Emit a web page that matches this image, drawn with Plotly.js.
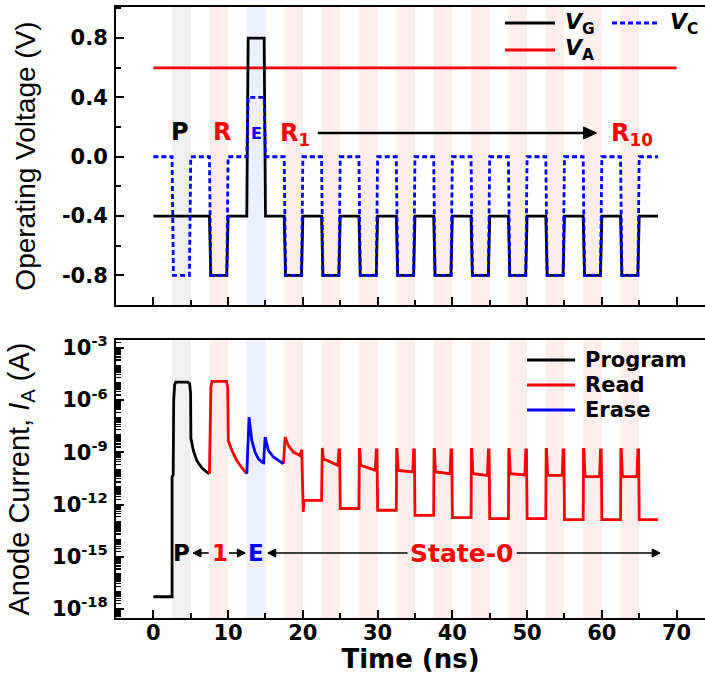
<!DOCTYPE html>
<html><head><meta charset="utf-8">
<script src="https://cdn.plot.ly/plotly-3.0.1.min.js"></script>
<style>html,body{margin:0;padding:0;background:#fff;overflow:hidden}</style>
</head><body><div id="chart" style="width:705px;height:674px"></div>
<script>
// ================= DATA =================
// --- Top panel: pulse schedule (ns)
const programPulse = [2.5, 5.0];
const erasePulse = [12.5, 15.0];
const readPulseStarts = [7.5, 17.5, 22.5, 27.5, 32.5, 37.5, 42.5, 47.5, 52.5, 57.5, 62.5];
const readPulseWidth = 2.5;
const waveSpan = [0, 67.5];
const vaSpan = [0, 70];
// voltage levels: [idle, program, read, erase]
const vgLevels = [-0.4, -0.4, -0.8, 0.8];
const vcLevels = [0.0, -0.8, -0.8, 0.4];
const vaLevel = 0.6;

// --- Bottom panel: anode current, exponent of I_A (A)
const progT   = [0, 2.5, 2.5, 2.65, 2.72, 2.85, 3.0, 4.6, 4.85, 4.98, 5.02, 5.35, 5.8, 6.5, 7.15, 7.5];
const progExp = [-17.3, -17.3, -10.4, -10.3, -6.0, -5.1, -4.97, -4.97, -5.05, -5.6, -8.2, -8.9, -9.47, -9.9, -10.14, -10.23];

const read1T   = [7.5, 7.55, 7.62, 7.7, 7.85, 9.8, 9.95, 10.02, 10.5, 11.16, 11.83, 12.5];
const read1Exp = [-10.23, -8.7, -8.6, -5.2, -4.93, -4.93, -5.3, -8.32, -8.9, -9.47, -9.89, -10.23];

const eraseT   = [12.5, 12.8, 13.17, 13.6, 14.05, 14.5, 14.75, 14.95, 15.4, 16.06, 16.73, 17.4];
const eraseExp = [-10.23, -6.99, -8.32, -8.99, -9.37, -9.56, -9.6, -8.13, -8.9, -9.27, -9.47, -9.66];

const r1T   = [17.4, 17.63, 18.06, 18.73, 19.6, 19.85, 20.05, 20.15];
const r1Exp = [-9.66, -8.13, -8.61, -8.99, -9.18, -8.86, -12.43, -11.76];

// reads R2..R10 (start at readPulseStarts[2..])
const readStartPeakExp = [-8.75, -8.84, -8.84, -8.84, -8.84, -8.84, -8.84, -8.84, -8.84];
const readBarStartExp  = [-9.37, -9.75, -10.04, -10.13, -10.23, -10.23, -10.33, -10.4, -10.4];
const readBarEndExp    = [-9.75, -10.04, -10.13, -10.23, -10.33, -10.3, -10.33, -10.4, -10.4];
const readEndPeakExp   = [-8.86, -8.86, -8.86, -8.86, -8.86, -8.86, -8.86, -8.86, -8.86];
// low-state level after R1..R10
const readLowExp = [-11.76, -12.23, -12.33, -12.62, -12.75, -12.81, -12.81, -12.87, -12.87, -12.87];

// tick labels
const vTickVals = [-0.8, -0.4, 0.0, 0.4, 0.8];
const vTickText = ['-0.8', '-0.4', '0.0', '0.4', '0.8'];
const iLabelExps = [-18, -15, -12, -9, -6, -3];
const tTickVals = [0, 10, 20, 30, 40, 50, 60, 70];

// ================= BUILD =================
const ramp = 0.18;
function pulses() {
  const list = [{t0: programPulse[0], t1: programPulse[1], k: 1},
                {t0: erasePulse[0], t1: erasePulse[1], k: 3}];
  readPulseStarts.forEach(s => list.push({t0: s, t1: s + readPulseWidth, k: 2}));
  return list.sort((a, b) => a.t0 - b.t0);
}
function stepWave(levels) {
  const x = [waveSpan[0]], y = [levels[0]];
  pulses().forEach(p => {
    const lv = levels[p.k];
    if (lv === levels[0]) return;
    x.push(p.t0, p.t0 + ramp, p.t1 - ramp, p.t1);
    y.push(levels[0], lv, lv, levels[0]);
  });
  x.push(waveSpan[1]); y.push(levels[0]);
  return {x, y};
}
const vg = stepWave(vgLevels);
const vc = stepWave(vcLevels);

const pw = v => Math.pow(10, v);
const readX = read1T.slice(), readY = read1Exp.map(pw);
readX.push(null); readY.push(null);
r1T.forEach((t, i) => { readX.push(t); readY.push(pw(r1Exp[i])); });
readPulseStarts.slice(2).forEach((t0, i) => {
  const low = readLowExp[i];
  readX.push(t0, t0 + 0.05, t0 + 0.1, t0 + 0.25, t0 + 2.2, t0 + 2.32, t0 + 2.42, t0 + 2.5);
  readY.push(pw(low), pw(readStartPeakExp[i]), pw(readStartPeakExp[i]), pw(readBarStartExp[i]),
             pw(readBarEndExp[i]), pw(readEndPeakExp[i]), pw(readEndPeakExp[i]), pw(readLowExp[i + 1]));
});
readX.push(waveSpan[1]); readY.push(pw(readLowExp[readLowExp.length - 1]));

const RED = '#ff0000', BLUE = '#0000ff', BLACK = '#000000';
const LW = 2.8;
const DASH = '5px,3px';
const traces = [
  {x: vaSpan, y: [vaLevel, vaLevel], mode: 'lines', line: {color: RED, width: LW}, xaxis: 'x', yaxis: 'y'},
  {x: vg.x, y: vg.y, mode: 'lines', line: {color: BLACK, width: LW}, xaxis: 'x', yaxis: 'y'},
  {x: vc.x, y: vc.y, mode: 'lines', line: {color: BLUE, width: LW, dash: DASH}, xaxis: 'x', yaxis: 'y'},
  {x: progT, y: progExp.map(pw), mode: 'lines', line: {color: BLACK, width: LW}, xaxis: 'x2', yaxis: 'y2'},
  {x: readX, y: readY, mode: 'lines', line: {color: RED, width: LW}, xaxis: 'x2', yaxis: 'y2', connectgaps: false},
  {x: eraseT, y: eraseExp.map(pw), mode: 'lines', line: {color: BLUE, width: LW}, xaxis: 'x2', yaxis: 'y2'}
];
traces.forEach(t => { t.showlegend = false; t.hoverinfo = 'skip'; });

// layout geometry (pixels)
const W = 705, H = 674, ML = 116, MR = 0, MT = 7, MB = 56;
const PW = W - ML - MR, PH = H - MT - MB;
const XR = [-5, 73.8];
const px = v => (v - ML) / PW;           // pixel x -> paper
const py = v => (H - MB - v) / PH;       // pixel y -> paper
const tx = t => ML + (t - XR[0]) / (XR[1] - XR[0]) * PW;  // time -> pixel x

const shapes = [];
const bandColor = ['', '#f0f0f0', '#fdeeee', '#eeeefc'];
['y domain', 'y2 domain'].forEach((yr, j) => {
  const xr = j === 0 ? 'x' : 'x2';
  pulses().forEach(p => shapes.push({type: 'rect', xref: xr, yref: yr, x0: p.t0, x1: p.t1, y0: 0, y1: 1,
    fillcolor: bandColor[p.k], line: {width: 0}, layer: 'below'}));
});

const annotations = [];
const F = 'Liberation Sans, Arial, sans-serif';
const FB = 'DejaVu Sans, Liberation Sans, sans-serif';
function legendItem(x0, x1, y, color, dash, label, size) {
  shapes.push({type: 'line', xref: 'paper', yref: 'paper', x0: px(x0), x1: px(x1), y0: py(y), y1: py(y),
    line: {color, width: LW, dash}});
  annotations.push({xref: 'paper', yref: 'paper', x: px(x1 + 8), y: py(y), xanchor: 'left', yanchor: 'middle',
    text: label, showarrow: false, font: {family: FB, size, color: '#000', weight: 700}});
}
legendItem(505, 555, 23, BLACK, 'solid', '<i>V</i><sub>G</sub>', 22);
legendItem(612, 660, 23, BLUE, DASH, '<i>V</i><sub>C</sub>', 22);
legendItem(505, 555, 50, RED, 'solid', '<i>V</i><sub>A</sub>', 22);
legendItem(527, 575, 360, BLACK, 'solid', 'Program', 21);
legendItem(527, 575, 385, RED, 'solid', 'Read', 21);
legendItem(527, 575, 410, BLUE, 'solid', 'Erase', 21);

function label(xr, yr, x, y, text, color, size) {
  annotations.push({xref: xr, yref: yr, x, y, text, showarrow: false, xanchor: 'center', yanchor: 'middle',
    font: {family: FB, size, color, weight: 700}});
}
// arrow in pixel space: line + filled triangle head
function arrowPx(x0, x1, y, lw, hl, hw) {
  const dir = Math.sign(x1 - x0);
  const xb = x1 - dir * hl;
  shapes.push({type: 'line', xref: 'paper', yref: 'paper', x0: px(x0), x1: px(xb), y0: py(y), y1: py(y),
    line: {color: BLACK, width: lw}});
  shapes.push({type: 'path', xref: 'paper', yref: 'paper', fillcolor: BLACK, line: {color: BLACK, width: 1},
    path: `M${px(x1)},${py(y)} L${px(xb)},${py(y - hw)} L${px(xb)},${py(y + hw)} Z`});
}
// top labels
label('x', 'y', 3.6, 0.17, 'P', BLACK, 24);
label('x', 'y', 9.2, 0.17, 'R', RED, 24);
label('x', 'y', 13.75, 0.155, 'E', BLUE, 16);
label('x', 'y', 19.0, 0.15, 'R<sub>1</sub>', RED, 24);
label('x', 'y', 64.0, 0.15, 'R<sub>10</sub>', RED, 24);
arrowPx(tx(22), tx(59.3), 133, 2.4, 13, 6);
// bottom labels
const yl = 553;
const ylD = (H - MB - yl) / (H - MB - 340);
label('x2', 'y2 domain', 3.75, ylD, 'P', BLACK, 23);
label('x2', 'y2 domain', 8.9, ylD, '1', RED, 23);
label('x2', 'y2 domain', 13.7, ylD, 'E', BLUE, 23);
label('x2', 'y2 domain', 41.3, ylD, 'State-0', RED, 25);
arrowPx(tx(7.4), tx(5.3), yl, 1.6, 8, 4);
arrowPx(tx(10.1), tx(12.3), yl, 1.6, 8, 4);
arrowPx(tx(34.0), tx(15.3), yl, 1.6, 8, 4);
arrowPx(tx(48.6), tx(67.8), yl, 1.6, 8, 4);

const tickFont = {family: FB, size: 21, color: '#000', weight: 700};
const axisCommon = {showline: true, linecolor: '#000', linewidth: 2, ticks: 'inside', ticklen: 8, tickwidth: 2,
  tickcolor: '#000', showgrid: false, zeroline: false, tickfont: tickFont};

const iTickVals = iLabelExps.map(pw);
const iTickText = iLabelExps.map(e => '10<sup>' + e + '</sup>');

const layout = {
  width: W, height: H, margin: {l: ML, r: MR, t: MT, b: MB}, paper_bgcolor: '#fff', plot_bgcolor: 'rgba(0,0,0,0)',
  showlegend: false,
  xaxis: Object.assign({}, axisCommon, {domain: [0, 1], anchor: 'y', range: XR, tickvals: tTickVals,
    showticklabels: false, mirror: true, minor: {dtick: 5, tick0: 0, ticks: 'inside', ticklen: 5, tickwidth: 2, tickcolor: '#000'}}),
  yaxis: Object.assign({}, axisCommon, {domain: [py(305), 1], anchor: 'x', range: [-1.0, 1.01],
    tickvals: vTickVals, ticktext: vTickText, ticklabelstandoff: 2,
    minor: {dtick: 0.2, tick0: 0, ticks: 'inside', ticklen: 5, tickwidth: 2, tickcolor: '#000'},
    title: {text: 'Operating Voltage (V)', standoff: 18, font: {family: F, size: 28, color: '#000'}}}),
  xaxis2: Object.assign({}, axisCommon, {domain: [0, 1], anchor: 'y2', range: XR, tickvals: tTickVals,
    mirror: true, matches: 'x', ticklabelstandoff: -5,
    minor: {dtick: 5, tick0: 0, ticks: 'inside', ticklen: 5, tickwidth: 2, tickcolor: '#000'},
    title: {text: 'Time (ns)', standoff: 6, font: {family: FB, size: 26, color: '#000', weight: 700}}}),
  yaxis2: Object.assign({}, axisCommon, {domain: [0, py(340)], anchor: 'x2', type: 'log', range: [-18.52, -2.55],
    tickvals: iTickVals, ticktext: iTickText, ticklabelstandoff: 2,
    minor: {dtick: 'D1', ticks: 'inside', ticklen: 5, tickwidth: 1.4, tickcolor: '#000'},
    title: {text: 'Anode Current, <i>I</i><sub>A</sub> (A)', standoff: 14, font: {family: F, size: 29, color: '#000'}}}),
  shapes, annotations
};
Plotly.newPlot('chart', traces, layout, {staticPlot: true, displayModeBar: false});
</script></body></html>
